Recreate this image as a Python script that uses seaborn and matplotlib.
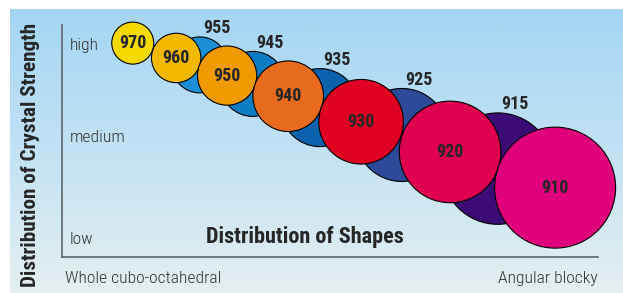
import numpy as np
import pandas as pd
import seaborn as sns
import matplotlib
matplotlib.use("Agg")
import matplotlib.pyplot as plt
from matplotlib import font_manager
from matplotlib.colors import LinearSegmentedColormap

# grades, position on the shape axis (0 = cubo-octahedral, 100 = angular blocky),
# position on the strength axis (0 = low, 100 = high) and bubble diameter
grades = [970, 960, 955, 950, 945, 940, 935, 930, 925, 920, 915, 910]
shape = [13.2, 21.3, 25.7, 30.8, 35.6, 42.2, 48.1, 55.8, 63.4, 72.4, 81.3, 92.0]
strength = [92.2, 85.8, 82.8, 78.2, 74.6, 69.3, 64.4, 58.3, 52.6, 45.3, 38.1, 29.9]
bubble = [42, 49.4, 56, 59.2, 65, 70.6, 78, 84.6, 93, 101.6, 111.4, 121]

strength_ticks = [92, 52, 8]
strength_labels = ["high", "medium", "low"]
shape_ticks = [0.6, 100]
shape_labels = ["Whole cubo-octahedral", "Angular blocky"]

colors = {
    "970": "#f5d800", "960": "#f2b800", "955": "#1a8fd6", "950": "#ef9a00",
    "945": "#0b7dc4", "940": "#e86b1d", "935": "#0a62ac", "930": "#df0024",
    "925": "#2d4a99", "920": "#df0050", "915": "#3b0b76", "910": "#e1007c",
}

DPI = 100


def pick_font(candidates):
    avail = {f.name for f in font_manager.fontManager.ttflist}
    for c in candidates:
        if c in avail:
            return c
    return "DejaVu Sans"


bold_font = pick_font(["Roboto Condensed", "Liberation Sans Narrow", "Archivo Narrow"])
light_font = pick_font(["Roboto Condensed", "Liberation Sans Narrow"])

sns.set_style("white")
plt.rcParams["font.family"] = [bold_font, "DejaVu Sans"]

df = pd.DataFrame({"grade": [str(g) for g in grades], "shape": shape,
                   "strength": strength, "bubble": bubble})
df["front"] = [g % 10 == 0 for g in grades]
df = df.sort_values("front", kind="stable").reset_index(drop=True)
df["s"] = (df["bubble"] * 72 / DPI) ** 2

fig = plt.figure(figsize=(6.23, 2.93), dpi=DPI)

# gradient background
bg = fig.add_axes([10 / 623, 0, 1 - 10 / 623, 1 - 9 / 293], zorder=-1)
cmap = LinearSegmentedColormap.from_list("bg", ["#a4d6f4", "#c2e2f4", "#e5eff0"])
bg.imshow(np.linspace(0, 1, 256).reshape(-1, 1), aspect="auto", cmap=cmap,
          extent=[0, 1, 0, 1])
bg.axis("off")

ax = fig.add_axes([62 / 623, 36 / 293, 536 / 623, 232 / 293])
ax.set_facecolor("none")

sns.scatterplot(data=df, x="shape", y="strength", hue="grade", palette=colors,
                s=df["s"].values, edgecolor="black", linewidth=0.8, legend=False,
                clip_on=False, ax=ax, zorder=3)

for _, row in df.iterrows():
    r_pt = row["bubble"] / 2 * 72 / DPI
    if row["front"]:
        ax.annotate(row["grade"], (row["shape"], row["strength"]), ha="center",
                    va="center", fontsize=13, fontweight="bold", zorder=5,
                    annotation_clip=False)
    else:
        ax.annotate(row["grade"], (row["shape"], row["strength"]),
                    xytext=(12.2, r_pt + 6.2), textcoords="offset points",
                    ha="center", va="center", fontsize=13, fontweight="bold",
                    zorder=5, annotation_clip=False)

ax.set_xlim(0, 100)
ax.set_ylim(0, 100)
ax.set_xlabel("")
ax.set_ylabel("")

ax.set_yticks(strength_ticks)
ax.set_yticklabels(strength_labels, family=light_font, fontweight="light",
                   fontsize=12.6, color="#333333")
for lab in ax.get_yticklabels():
    lab.set_horizontalalignment("left")
ax.tick_params(axis="y", length=0, pad=-5.8)

ax.set_xticks(shape_ticks)
ax.set_xticklabels(shape_labels, family=light_font, fontweight="light",
                   fontsize=12.6, color="#333333")
xl = ax.get_xticklabels()
xl[0].set_horizontalalignment("left")
xl[1].set_horizontalalignment("right")
ax.tick_params(axis="x", length=0, pad=10)

for side in ["top", "right"]:
    ax.spines[side].set_visible(False)
for side in ["left", "bottom"]:
    ax.spines[side].set_color("#5f6569")
    ax.spines[side].set_linewidth(1.2)

ax.text(0.454, 0.086, "Distribution of Shapes", transform=ax.transAxes,
        ha="center", va="center", fontsize=16, fontweight="bold")
fig.text(31 / 623, 1 - 154.5 / 293, "Distribution of Crystal Strength",
         rotation=90, ha="center", va="center", fontsize=15.2, fontweight="bold")

fig.savefig("out.png", dpi=DPI, facecolor="white")
